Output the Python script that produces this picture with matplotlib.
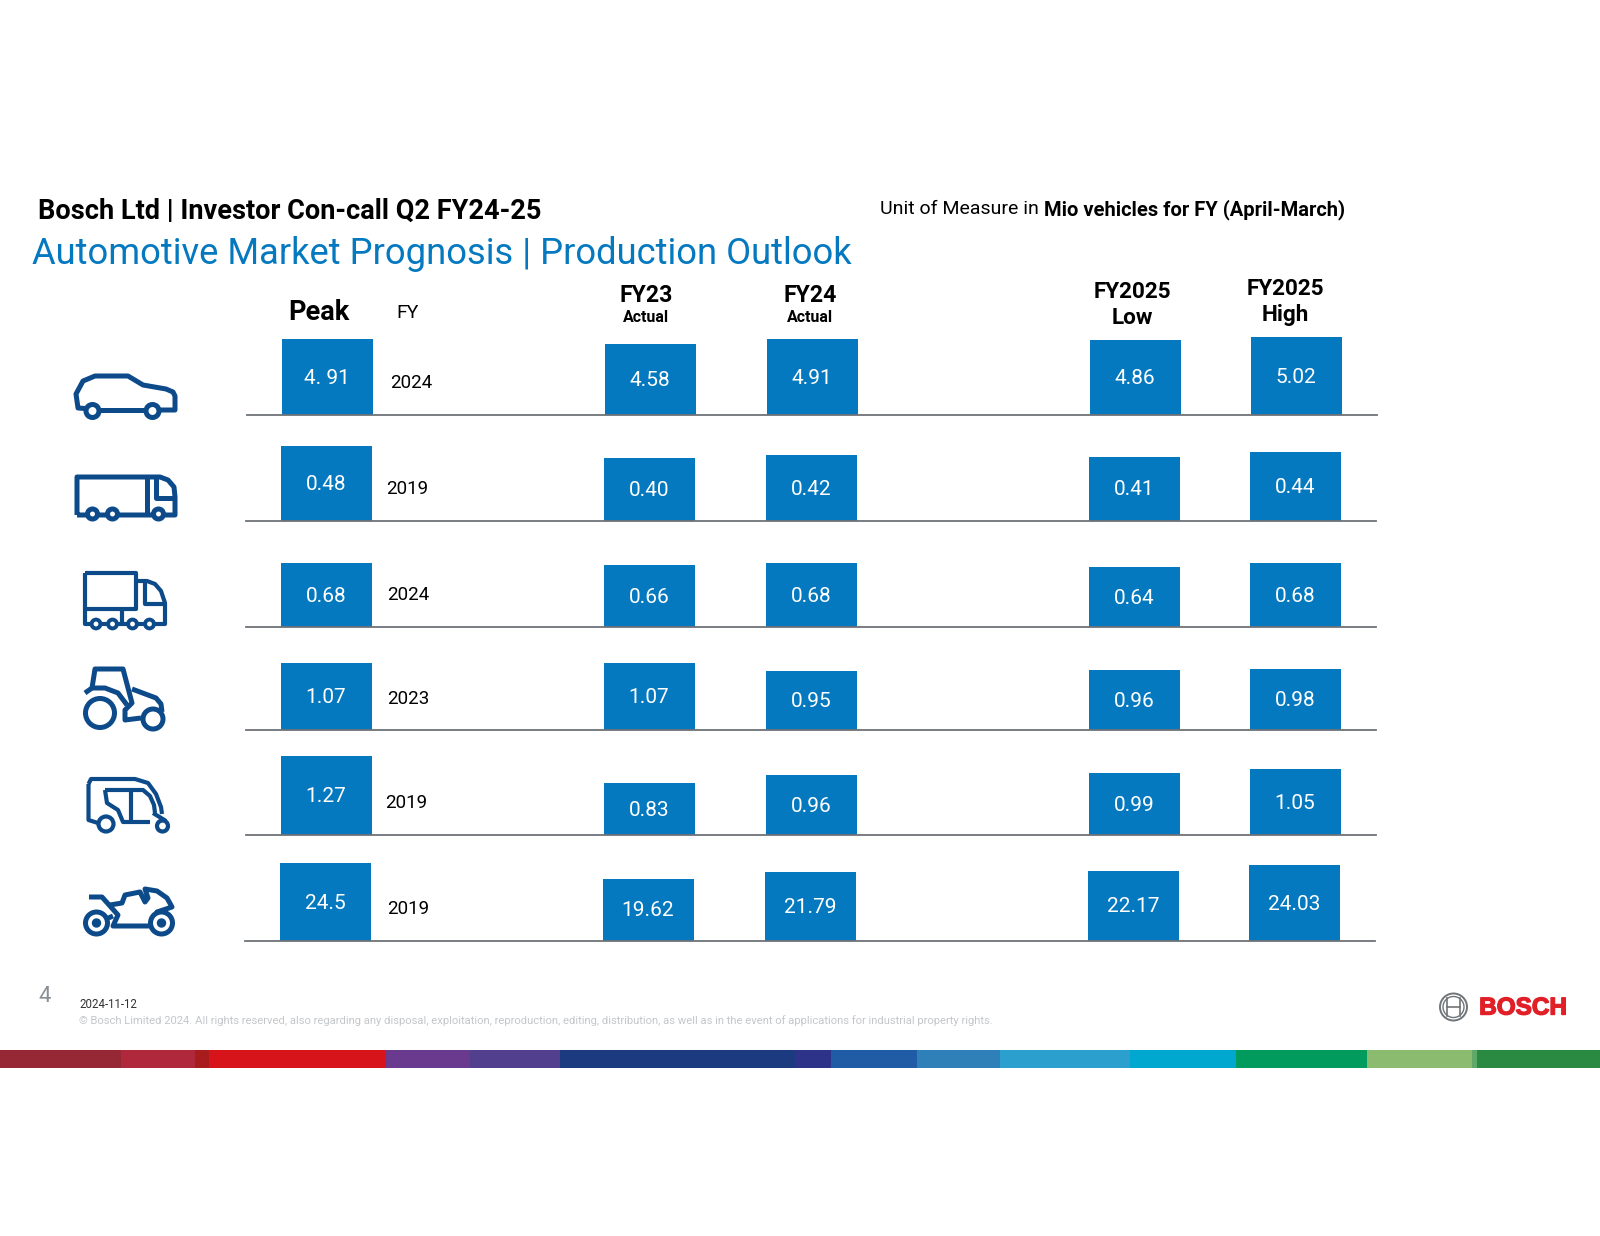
import matplotlib
matplotlib.use('Agg')
import matplotlib.pyplot as plt
import matplotlib.patheffects as pe
from matplotlib.patches import Circle, Rectangle, PathPatch
from matplotlib.path import Path

W, H = 1600, 1236

BLUE = '#0579bf'
ICON = '#0d4a8a'
FONT = 'Roboto'

columns = ['peak', 'FY23', 'FY24', 'FY25 low', 'FY25 high']
col_x = [326, 649, 811, 1134, 1295]

vehicle_peak = [4.91, 0.48, 0.68, 1.07, 1.27, 24.5]
vehicle_fy23 = [4.58, 0.40, 0.66, 1.07, 0.83, 19.62]
vehicle_fy24 = [4.91, 0.42, 0.68, 0.95, 0.96, 21.79]
vehicle_low = [4.86, 0.41, 0.64, 0.96, 0.99, 22.17]
vehicle_high = [5.02, 0.44, 0.68, 0.98, 1.05, 24.03]
peak_year = ['2024', '2019', '2024', '2023', '2019', '2019']
peak_label = ['4. 91', '0.48', '0.68', '1.07', '1.27', '24.5']
year_x = [411, 407, 408, 408, 406, 408]

baseline = [414.5, 520.5, 626.5, 729.5, 834.5, 940.5]
row_shift = [1, 0, 0, 0, 0, -1]
row_scale = [15.4, 156, 93, 62, 62, 3.15]  # px per vehicle unit, each row has its own

strip_edges = [0, 121, 195, 209, 386, 470, 560, 795, 831, 917, 1000, 1130, 1236, 1367, 1472, 1477, 1600]
strip_colors = ['#962835', '#b0283c', '#a81c1e', '#d7141a', '#6a3a8e', '#52408f', '#1c3a80', '#2c3388',
                '#1f5ca5', '#2f7fb8', '#2ba0cf', '#00a8d0', '#009b5d', '#8abb6e', '#5fa868', '#2b8a41']


def fx(x):
    return x / W


def fy(y):
    return 1 - y / H


fig = plt.figure(figsize=(16, 12.36), dpi=100)
bg = fig.add_axes([0, 0, 1, 1])
bg.set_xlim(0, W)
bg.set_ylim(H, 0)
bg.axis('off')

# one axes per row, the slide scales each row by itself
for i in range(6):
    values = [vehicle_peak[i], vehicle_fy23[i], vehicle_fy24[i], vehicle_low[i], vehicle_high[i]]
    x0 = 246 + row_shift[i]
    x1 = 1376 + row_shift[i]
    ax = fig.add_axes([fx(x0), fy(baseline[i]), fx(x1 - x0), 90 / H])
    ax.patch.set_alpha(0)
    ax.set_xlim(x0, x1)
    ax.set_ylim(0, 90 / row_scale[i])
    xs = [x + row_shift[i] for x in col_x]
    ax.bar(xs, values, width=91, color=BLUE)
    for s in ['top', 'left', 'right']:
        ax.spines[s].set_visible(False)
    ax.spines['bottom'].set_color('#6e7276')
    ax.spines['bottom'].set_linewidth(1.3)
    ax.set_xticks([])
    ax.set_yticks([])
    labels = [peak_label[i]] + ['%.2f' % v for v in values[1:]]
    for x, v, lab in zip(xs, values, labels):
        ax.annotate(lab, (x, v / 2), xytext=(0, -1), textcoords='offset points', ha='center', va='center',
                    color='white', fontsize=15, family=FONT)
    bg.text(year_x[i], baseline[i] - 31, peak_year[i], ha='center', va='center', fontsize=13.5, family=FONT)

# text at the top
bg.text(38, 211, 'Bosch Ltd | Investor Con-call Q2 FY24-25', fontsize=19.55, fontweight='bold', va='center', family=FONT)
bg.text(32, 254, 'Automotive Market Prognosis | Production Outlook', fontsize=26.2, color=BLUE, va='center', family=FONT)
t = bg.text(880, 209.5, 'Unit of Measure in ', fontsize=14, va='center', family=FONT)
bg.annotate('Mio vehicles for FY (April-March)', xy=(1, 0.5), xycoords=t, va='center', fontsize=14.5,
            fontweight='bold', family=FONT)

bg.text(319, 312, 'Peak', ha='center', va='center', fontsize=19.5, fontweight='bold', family=FONT)
bg.text(408, 313, 'FY', ha='center', va='center', fontsize=14, family=FONT)
bg.text(646, 295, 'FY23', ha='center', va='center', fontsize=16.7, fontweight='bold', family=FONT)
bg.text(646, 317, 'Actual', ha='center', va='center', fontsize=11.5, fontweight='bold', family=FONT)
bg.text(810, 295, 'FY24', ha='center', va='center', fontsize=16.7, fontweight='bold', family=FONT)
bg.text(810, 317, 'Actual', ha='center', va='center', fontsize=11.5, fontweight='bold', family=FONT)
bg.text(1132, 292, 'FY2025', ha='center', va='center', fontsize=16.2, fontweight='bold', family=FONT)
bg.text(1132, 318, 'Low', ha='center', va='center', fontsize=16.2, fontweight='bold', family=FONT)
bg.text(1285, 289, 'FY2025', ha='center', va='center', fontsize=16.2, fontweight='bold', family=FONT)
bg.text(1285, 315, 'High', ha='center', va='center', fontsize=16.2, fontweight='bold', family=FONT)


def stroke(verts, lw=3.6):
    bg.add_patch(PathPatch(Path(verts), fill=False, edgecolor=ICON, linewidth=lw, capstyle='butt', joinstyle='round'))


def wheel(x, y, r, lw=3.6, dot=0):
    bg.add_patch(Circle((x, y), r, facecolor='white', edgecolor=ICON, linewidth=lw, zorder=3))
    if dot:
        bg.add_patch(Circle((x, y), dot, facecolor=ICON, edgecolor=ICON, zorder=4))


# car
stroke([(92, 409), (78, 408), (76, 394), (83, 381), (95, 376), (128, 376), (143, 385), (166, 389), (173, 392),
        (175, 396), (175, 410), (155, 410)])
stroke([(92, 410), (155, 410)])
wheel(92.5, 411, 6.5)
wheel(152.5, 411, 6.5)

# long truck
stroke([(77, 515), (77, 477), (160, 477), (168, 480), (174, 487), (175, 497), (175, 515), (77, 515)])
stroke([(147, 477), (147, 515)])
stroke([(156, 477), (156, 498), (175, 498)])
wheel(92.5, 514, 5)
wheel(112.5, 514, 5)
wheel(158.5, 514, 5)

# small truck
stroke([(85, 573), (136, 573), (136, 609), (85, 609)], lw=3)
stroke([(85, 573), (85, 624), (165, 624), (165, 603), (161, 591), (155, 584), (147, 581), (136, 581)], lw=3)
stroke([(145, 581), (145, 604), (165, 604)], lw=3)
stroke([(122, 609), (122, 624)], lw=3)
for x in [96, 112.5, 132.5, 149.5]:
    wheel(x, 624, 4.4, lw=2.8)

# tractor
stroke([(85, 693), (92, 688), (95, 669), (123, 669), (132, 703), (125, 710), (125, 720), (141, 718)])
stroke([(92, 688), (105, 688), (118, 693), (127, 705)])
stroke([(132, 689), (156, 698), (161, 704), (162, 712)])
wheel(100, 713, 14.5)
wheel(153, 719, 10)

# rickshaw
stroke([(88.5, 784), (91, 779), (135, 779), (148, 783), (156, 794), (161, 807), (162, 814)], lw=3)
stroke([(88.5, 784), (88.5, 820), (98, 823)], lw=3)
stroke([(105, 790), (143, 790), (150, 796), (154, 805), (155, 813)], lw=3)
stroke([(105, 790), (107, 803), (118, 810), (123, 822), (150, 822)], lw=3)
stroke([(131, 790), (131, 822)], lw=3)
stroke([(153, 813), (166, 821)], lw=3)
wheel(106, 824, 7.5, lw=3)
wheel(162.5, 826, 5.5, lw=3)

# motorbike
stroke([(89, 897), (102, 897), (118, 915), (113, 926), (150, 926)])
stroke([(110, 905), (122, 903), (125, 895), (140, 892), (145, 902), (148, 898), (145, 889), (157, 891), (167, 898),
        (172, 907), (157, 912), (150, 926)])
stroke([(97, 923), (113, 916)])
wheel(96.5, 923, 11, dot=4)
wheel(161.5, 923, 11, dot=4)

# footer
bg.text(45, 996, '4', fontsize=16, color='#8a8f94', ha='center', va='center', family=FONT)
bg.text(79, 1004.5, '2024-11-12', fontsize=8.3, va='center', color='#333333', family=FONT)
bg.text(79, 1021, '© Bosch Limited 2024. All rights reserved, also regarding any disposal, exploitation, reproduction, '
        'editing, distribution, as well as in the event of applications for industrial property rights.',
        fontsize=8.1, va='center', color='#c4c7ca', family=FONT)

stroke_col = '#6f7478'
bg.add_patch(Circle((1453.5, 1007), 13.5, fill=False, edgecolor=stroke_col, linewidth=1.4))
bg.add_patch(Circle((1453.5, 1007), 10.5, fill=False, edgecolor=stroke_col, linewidth=1.0))
bg.plot([1447, 1447], [998, 1016], color=stroke_col, lw=1.2)
bg.plot([1460, 1460], [998, 1016], color=stroke_col, lw=1.2)
bg.plot([1447, 1460], [1007, 1007], color=stroke_col, lw=1.2)
bg.text(1523, 1008, 'BOSCH', fontsize=17.5, fontweight='bold', color='#e11f26', ha='center', va='center',
        family='Liberation Sans', path_effects=[pe.withStroke(linewidth=1.0, foreground='#e11f26')])

for i, c in enumerate(strip_colors):
    bg.add_patch(Rectangle((strip_edges[i], 1050), strip_edges[i + 1] - strip_edges[i], 18, facecolor=c, edgecolor='none'))

fig.savefig('out.png', dpi=100)
